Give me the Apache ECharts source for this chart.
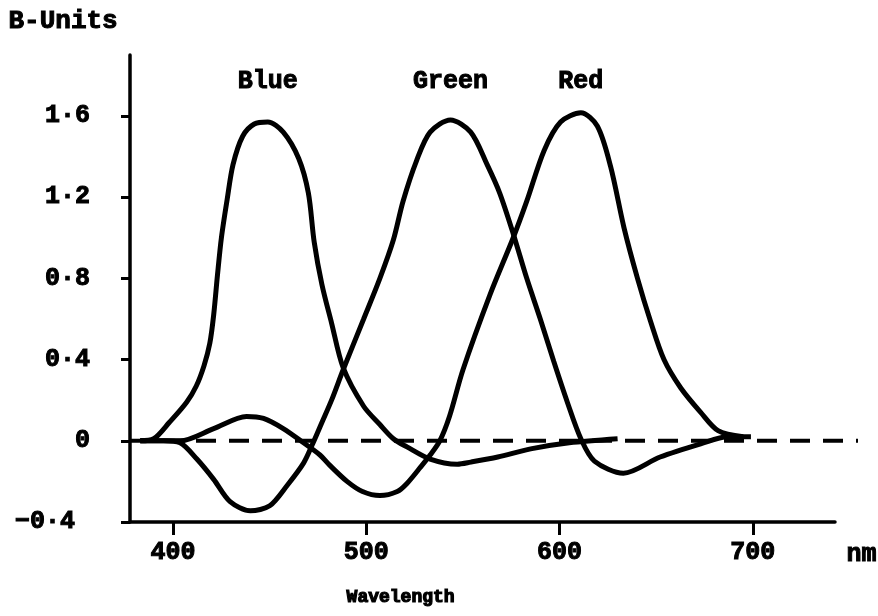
<!DOCTYPE html>
<html style="height: 100%">
<head>
    <meta charset="utf-8">
    <title>B-Units</title>
</head>
<body style="height: 100%; margin: 0; background: #fff;">
<div id="container" style="width: 878px; height: 616px"></div>
<script type="text/javascript" src="https://cdn.jsdelivr.net/npm/echarts@6/dist/echarts.min.js"></script>
<script type="text/javascript">

    // wavelength (nm) / value pairs
    var blueWl  = [383, 390, 398, 407, 412, 416, 419, 421, 423, 425, 428, 431, 436, 442, 449, 457, 465, 470, 473, 477, 482, 488, 498.6, 507, 514, 521, 533, 547, 554, 568, 585, 605, 630];
    var blueVal = [0, 0.01, 0.09, 0.19, 0.27, 0.37, 0.48, 0.62, 0.82, 1.0, 1.19, 1.36, 1.50, 1.56, 1.57, 1.52, 1.39, 1.22, 0.98, 0.77, 0.58, 0.36, 0.17, 0.08, 0.01, -0.03, -0.09, -0.115, -0.105, -0.08, -0.04, -0.01, 0.01];

    var greenWl  = [383, 395, 403.6, 412.3, 421, 429.5, 440, 450, 459, 467.5, 472, 477, 482, 488, 498.6, 507, 514, 519, 526, 533, 543.5, 554, 562.5, 569, 576, 583, 590, 597, 604, 611, 618, 633, 652, 673, 687, 699];
    var greenVal = [0, 0, -0.01, -0.09, -0.19, -0.30, -0.345, -0.32, -0.22, -0.11, -0.02, 0.09, 0.20, 0.35, 0.60, 0.80, 0.99, 1.18, 1.38, 1.52, 1.58, 1.52, 1.36, 1.22, 1.02, 0.80, 0.60, 0.39, 0.19, 0.01, -0.10, -0.16, -0.08, -0.015, 0.02, 0.02];

    var redWl  = [383, 403.6, 421, 438, 446.8, 457, 467.5, 476, 481, 490, 498, 507, 516, 521, 528, 533, 538, 543, 550, 564, 576, 583, 592, 600.5, 611, 619.5, 626.4, 633.3, 640.3, 647, 654, 662.7, 673, 682, 695];
    var redVal = [0, 0, 0.06, 0.12, 0.11, 0.06, -0.01, -0.07, -0.12, -0.20, -0.25, -0.27, -0.25, -0.21, -0.13, -0.07, 0.0, 0.12, 0.35, 0.72, 1.0, 1.18, 1.43, 1.57, 1.615, 1.55, 1.35, 1.05, 0.80, 0.59, 0.40, 0.26, 0.14, 0.05, 0.02];

    var seriesNames = ['Blue', 'Green', 'Red'];
    var xTickValues = [400, 500, 600, 700];
    var yTickValues = [-0.4, 0, 0.4, 0.8, 1.2, 1.6];
    var yTickLabels = ['\u22120\u00b74 ', '0', '0\u00b74', '0\u00b78', '1\u00b72', '1\u00b76'];

    var font = "'Liberation Mono', 'DejaVu Sans Mono', monospace";

    function pairs(xs, ys) {
        var out = [];
        for (var i = 0; i < xs.length; i++) out.push([xs[i], ys[i]]);
        return out;
    }

    function peakOf(xs, ys) {
        var k = 0;
        for (var i = 1; i < ys.length; i++) if (ys[i] > ys[k]) k = i;
        return xs[k];
    }

    // heavy typewriter look: bold mono with a thin outline
    function inkText(size) {
        return {
            color: '#000',
            fontFamily: font,
            fontWeight: 'bold',
            fontSize: size,
            textBorderColor: '#000',
            textBorderWidth: 1
        };
    }

    var curves = [[blueWl, blueVal], [greenWl, greenVal], [redWl, redVal]];

    var series = curves.map(function (c, i) {
        var lbl = inkText(25);
        lbl.show = true;
        lbl.formatter = seriesNames[i];
        return {
            name: seriesNames[i],
            type: 'line',
            smooth: 0.3,
            showSymbol: false,
            z: 3,
            lineStyle: {color: '#000', width: 5},
            data: pairs(c[0], c[1]),
            markPoint: {
                symbol: 'circle',
                symbolSize: 0,
                label: lbl,
                data: [{coord: [peakOf(c[0], c[1]), 1.77]}]
            }
        };
    });

    // dashed zero line runs a little past the end of the x axis
    series.push({
        type: 'line',
        xAxisIndex: 1,
        yAxisIndex: 1,
        showSymbol: false,
        silent: true,
        z: 2,
        lineStyle: {color: '#000', width: 4, type: [20, 13]},
        data: [[0, 0], [1, 0]]
    });

    var xLabel = inkText(25);
    xLabel.customValues = xTickValues;
    xLabel.margin = 18;

    var yLabel = inkText(25);
    yLabel.customValues = yTickValues;
    yLabel.margin = 40;
    yLabel.formatter = function (v) {
        for (var i = 0; i < yTickValues.length; i++) {
            if (Math.abs(v - yTickValues[i]) < 1e-6) return yTickLabels[i];
        }
        return '';
    };

    var dom = document.getElementById("container");
    var myChart = echarts.init(dom);
    var option = {
        backgroundColor: '#fff',
        animation: false,
        grid: [
            {left: 130, right: 43, top: 55, bottom: 94},
            {left: 130, right: 20, top: 55, bottom: 94}
        ],
        xAxis: [{
            type: 'value',
            min: 377.7,
            max: 742.5,
            axisLine: {onZero: false, lineStyle: {color: '#000', width: 3.5}},
            axisTick: {length: 13, customValues: xTickValues, lineStyle: {color: '#000', width: 3}},
            axisLabel: xLabel,
            splitLine: {show: false}
        }, {
            type: 'value',
            gridIndex: 1,
            min: 0,
            max: 1,
            show: false
        }],
        yAxis: [{
            type: 'value',
            min: -0.4,
            max: 1.9,
            axisLine: {show: true, lineStyle: {color: '#000', width: 3.5}},
            axisTick: {show: true, length: 9, customValues: yTickValues, lineStyle: {color: '#000', width: 3}},
            axisLabel: yLabel,
            splitLine: {show: false}
        }, {
            type: 'value',
            gridIndex: 1,
            min: -0.4,
            max: 1.9,
            show: false
        }],
        graphic: [
            {type: 'text', left: 8, top: 8, style: {text: 'B-Units', fill: '#000', stroke: '#000', lineWidth: 1, font: 'bold 26px ' + font}},
            {type: 'text', left: 346, top: 588, style: {text: 'Wavelength', fill: '#000', stroke: '#000', lineWidth: 1.2, font: 'bold 18px ' + font}},
            {type: 'text', left: 846, top: 542, style: {text: 'nm', fill: '#000', stroke: '#000', lineWidth: 1, font: 'bold 25px ' + font}}
        ],
        series: series
    };
    myChart.setOption(option, true);

</script>
</body>
</html>
